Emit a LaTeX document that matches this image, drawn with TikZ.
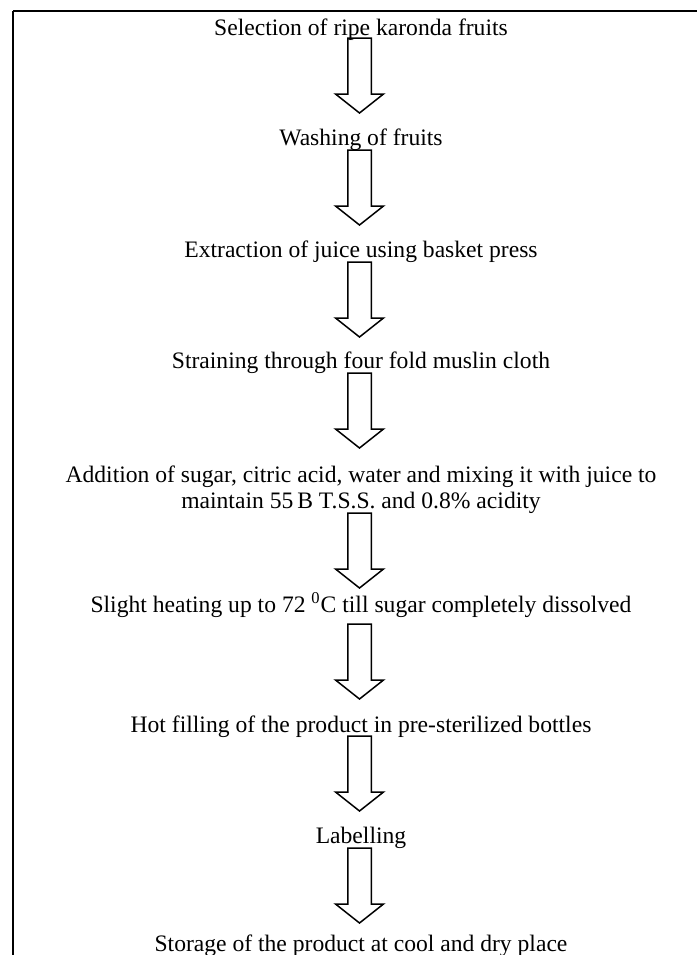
\documentclass[tikz,border=0pt]{standalone}
\usepackage{fontspec}
\setmainfont{Liberation Serif}
\usetikzlibrary{positioning}

\tikzset{
  steptext/.style={anchor=base, inner sep=0pt, align=center, font=\fontsize{11.8}{13}\selectfont},
  arrowline/.style={line width=0.75pt, line join=miter},
  downarrow/.pic={
    \draw[arrowline] (-11.75,0) -- (-11.75,56) -- (-24,56) -- (0,75) -- (24,56) -- (11.75,56) -- (11.75,0) -- cycle;
  }
}

\begin{document}
\begin{tikzpicture}[x=0.5pt, y=-0.5pt]
\useasboundingbox (0,0) rectangle (697,955);
\draw[line width=1pt](13,955) -- (13,11);
\draw[line width=1pt](13,11) -- (697,11);

\node[steptext] (select) at (361,35) {Selection of ripe karonda fruits};
\node[steptext] (wash) at (361,145) {Washing of fruits};
\node[steptext] (extract) at (361,257) {Extraction of juice using basket press};
\node[steptext] (strain) at (361,368) {Straining through four fold muslin cloth};
\node[steptext] (addsugar) at (361,508) {Addition of sugar, citric acid, water and mixing it with juice to\\maintain 55\,B T.S.S. and 0.8\% acidity};
\node[steptext] (heat) at (361,612) {Slight heating up to 72 \textsuperscript{0}C till sugar completely dissolved};
\node[steptext] (fill) at (361,732) {Hot filling of the product in pre-sterilized bottles};
\node[steptext] (label) at (361,843) {Labelling};
\node[steptext] (store) at (361,951) {Storage of the product at cool and dry place};

\coordinate (a1) at (359.5,38);
\coordinate (a2) at (359.5,150);
\coordinate (a3) at (359.5,262);
\coordinate (a4) at (359.5,373);
\coordinate (a5) at (359.5,513);
\coordinate (a6) at (359.5,624);
\coordinate (a7) at (359.5,736);
\coordinate (a8) at (359.5,848);

\pic at (a1) {downarrow};
\pic at (a2) {downarrow};
\pic at (a3) {downarrow};
\pic at (a4) {downarrow};
\pic at (a5) {downarrow};
\pic at (a6) {downarrow};
\pic at (a7) {downarrow};
\pic at (a8) {downarrow};
\end{tikzpicture}
\end{document}
